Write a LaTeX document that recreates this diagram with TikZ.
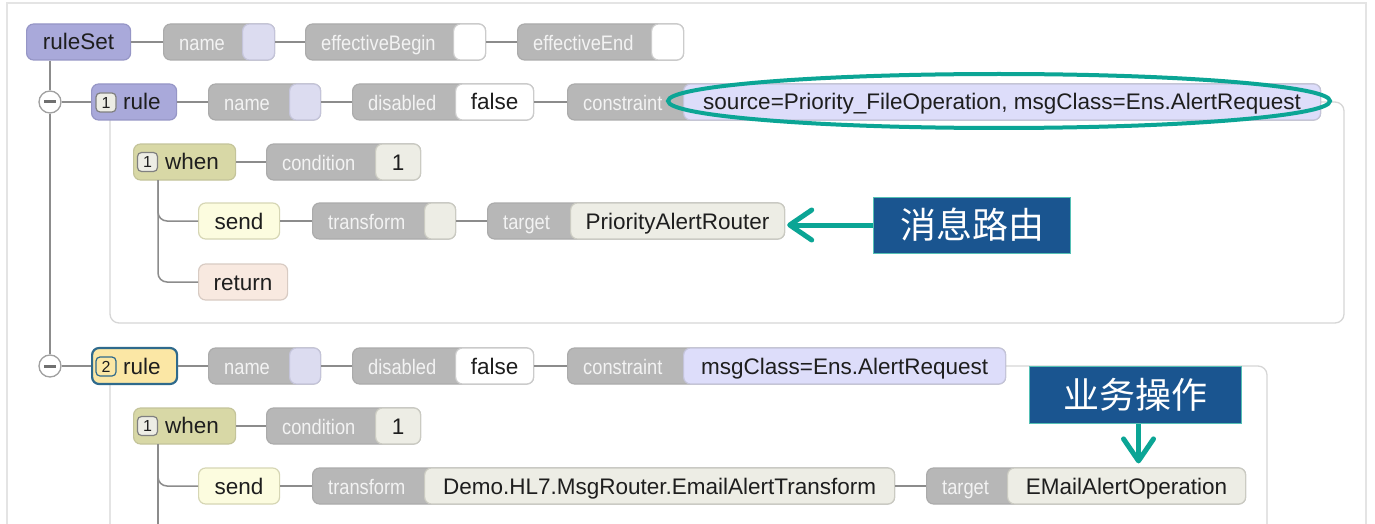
\documentclass[tikz,border=0pt]{standalone}
\usepackage{fontspec}
\setmainfont{Liberation Sans}
\newfontfamily\cjk{Noto Sans CJK SC}
\newfontfamily\labfam[FakeStretch=0.87]{Liberation Sans}
\usetikzlibrary{arrows.meta}
\definecolor{lavF}{HTML}{A9A9DA}
\definecolor{lavB}{HTML}{9696C6}
\definecolor{gpF}{HTML}{B7B7B7}
\definecolor{gpB}{HTML}{ABABAB}
\definecolor{labC}{HTML}{F3F3F3}
\definecolor{vlavF}{HTML}{DCDCF0}
\definecolor{vlavB}{HTML}{C4C4DA}
\definecolor{vconF}{HTML}{DDDDFA}
\definecolor{vwhB}{HTML}{CCCCCC}
\definecolor{vcrF}{HTML}{EDEDE5}
\definecolor{vcrB}{HTML}{CBCBC2}
\definecolor{whenF}{HTML}{D8D8A6}
\definecolor{whenB}{HTML}{C4C49A}
\definecolor{sendF}{HTML}{FCFCDF}
\definecolor{sendB}{HTML}{D6D6B4}
\definecolor{retF}{HTML}{F8E9E0}
\definecolor{retB}{HTML}{D8CBC3}
\definecolor{rtwoF}{HTML}{FBE7A5}
\definecolor{rtwoB}{HTML}{2F6A8C}
\definecolor{connC}{HTML}{8C8C8C}
\definecolor{frameC}{HTML}{D6D6D6}
\definecolor{outerC}{HTML}{E4E4E4}
\definecolor{tealC}{HTML}{0BA595}
\definecolor{blueC}{HTML}{1A5590}
\definecolor{txtC}{HTML}{1E1E1E}
\definecolor{minusC}{HTML}{707070}
\definecolor{circB}{HTML}{A0A0A0}
\newcommand\vfont{\fontsize{22.5}{22.5}\selectfont}
\newcommand\lfont{\labfam\fontsize{21}{21}\selectfont}
\newcommand\bfont{\fontsize{16}{16}\selectfont}
\newcommand\cfont{\cjk\fontsize{36}{36}\selectfont}
\newcommand\mkpill[8]{%
  \node[gp, minimum width={#4-#2}] (#1) at (#2,#3) {};
  \node[lab] at ([xshift=16]#1.west) {#6};
  \node[#7, minimum width={#4-#5}] (#1v) at (#5,#3) {#8};}
\begin{document}
\begin{tikzpicture}[x=1pt,y=-1pt,
  box/.style={rounded corners=7, minimum height=36, inner sep=0, line width=1.2, anchor=west, text=txtC, font=\vfont, text height=16, text depth=0},
  lavnode/.style={box, draw=lavB, fill=lavF},
  gp/.style={box, draw=gpB, fill=gpF},
  vlav/.style={box, draw=vlavB, fill=vlavF},
  vcon/.style={box, draw=vlavB, fill=vconF},
  vwh/.style={box, draw=vwhB, fill=white},
  vcr/.style={box, draw=vcrB, fill=vcrF},
  whennode/.style={box, draw=whenB, fill=whenF},
  sendnode/.style={box, draw=sendB, fill=sendF},
  retnode/.style={box, draw=retB, fill=retF},
  rtwonode/.style={box, draw=rtwoB, fill=rtwoF, line width=2.2},
  lab/.style={anchor=west, inner sep=0, text=labC, font=\lfont, text height=17, text depth=0},
  vtext/.style={anchor=west, inner sep=0, text=txtC, font=\vfont, text height=16, text depth=0},
  badge/.style={draw=#1, fill=vcrF, rounded corners=4, line width=1.2, minimum width=20, minimum height=19, inner sep=0, font=\bfont, text=txtC, text height=11.5, text depth=0},
  badge/.default=gray,
  conn/.style={draw=connC, line width=1.5},
  frame/.style={draw=frameC, line width=1.3, rounded corners=9},
  circ/.style={circle, draw=circB, fill=white, line width=1.3, minimum size=22, inner sep=0},
  minus/.style={draw=minusC, line width=3},
  tarrow/.style={draw=tealC, line width=5, -{Straight Barb[length=22pt,width=30pt,round]}},
  cbox/.style={draw=tealC!70, line width=1, fill=blueC, text=white, font=\cfont, minimum height=56, inner sep=0, text height=31, text depth=5}
]
\useasboundingbox (0,0) rectangle (1375,524);
\clip (0,0) rectangle (1375,524);
\fill[white] (0,0) rectangle (1375,524);
\draw[draw=outerC, line width=1.2] (7,3) rectangle (1366,560);
% frames of rule bodies
\draw[frame] (110,102) rectangle (1344,323);
\draw[frame] (110,366) rectangle (1267,600);

% Row A
\node[lavnode, minimum width=104] (rs) at (26,42) {ruleSet};
\mkpill{aname}{163}{42}{274}{242}{name}{vlav}{}
\mkpill{abeg}{305}{42}{485}{453}{effectiveBegin}{vwh}{}
\mkpill{aend}{517}{42}{683}{651}{effectiveEnd}{vwh}{}
\draw[conn] (rs.east) -- (aname.west);
\draw[conn] (aname.east) -- (abeg.west);
\draw[conn] (abeg.east) -- (aend.west);

% Row B : rule 1
\node[circ] (c1) at (50,102) {};
\draw[minus] ([xshift=-6]c1.center) -- ([xshift=6]c1.center);
\node[lavnode, minimum width=85] (r1) at (91,102) {};
\node[badge] (r1b) at (106,102.5) {1};
\node[vtext] (r1t) at (123,102) {rule};
\mkpill{bname}{208}{102}{320}{289}{name}{vlav}{}
\mkpill{bdis}{352}{102}{533}{455}{disabled}{vwh}{false}
\mkpill{bcon}{567}{102}{1320}{683}{constraint}{vcon}{source=Priority\_FileOperation, msgClass=Ens.AlertRequest}
\draw[conn] (rs.south -| c1) -- (c1.north);
\draw[conn] (c1.east) -- (r1.west);
\draw[conn] (r1.east) -- (bname.west);
\draw[conn] (bname.east) -- (bdis.west);
\draw[conn] (bdis.east) -- (bcon.west);

% Row C : when 1
\node[whennode, minimum width=102] (w1) at (133,162) {};
\node[badge] (w1b) at (147.5,162) {1};
\node[vtext] (w1t) at (165,161.5) {when};
\mkpill{ccond}{266}{162}{420}{375}{condition}{vcr}{1}
\draw[conn] (w1.east) -- (ccond.west);

% Row D : send 1
\node[sendnode, minimum width=81] (s1) at (198,221) {send};
\mkpill{dtr}{312}{221}{455}{424}{transform}{vcr}{}
\mkpill{dtg}{487}{221}{784}{570}{target}{vcr}{PriorityAlertRouter}
\draw[conn] (s1.east) -- (dtr.west);
\draw[conn] (dtr.east) -- (dtg.west);

% Row E : return
\node[retnode, minimum width=89] (ret1) at (198,282) {return};
\coordinate (w1j) at (158,180);
\draw[conn, rounded corners=9] (w1j) |- (s1.west);
\draw[conn, rounded corners=9] (w1j) |- (ret1.west);

% message routing callout
\node[cbox, minimum width=197, anchor=west] (msg) at (873,225) {消息路由};
\draw[tarrow, shorten >=2] (msg.west) -- (msg.west -| dtgv.east);

% Row F : rule 2
\node[circ] (c2) at (50,366) {};
\draw[minus] ([xshift=-6]c2.center) -- ([xshift=6]c2.center);
\draw[conn] (c1.south) -- (c2.north);
\node[rtwonode, minimum width=85] (r2) at (91,366) {};
\node[badge=rtwoB, fill=rtwoF] (r2b) at (106,366.5) {2};
\node[vtext] (r2t) at (123,366) {rule};
\mkpill{fname}{208}{366}{320}{289}{name}{vlav}{}
\mkpill{fdis}{352}{366}{533}{455}{disabled}{vwh}{false}
\mkpill{fcon}{567}{366}{1005}{683}{constraint}{vcon}{msgClass=Ens.AlertRequest}
\draw[conn] (c2.east) -- (r2.west);
\draw[conn] (r2.east) -- (fname.west);
\draw[conn] (fname.east) -- (fdis.west);
\draw[conn] (fdis.east) -- (fcon.west);

% Row G : when 2
\node[whennode, minimum width=102] (w2) at (133,426) {};
\node[badge] (w2b) at (147.5,426) {1};
\node[vtext] (w2t) at (165,425.5) {when};
\mkpill{gcond}{266}{426}{420}{375}{condition}{vcr}{1}
\draw[conn] (w2.east) -- (gcond.west);

% Row H : send 2
\node[sendnode, minimum width=81] (s2) at (198,486) {send};
\mkpill{htr}{312}{486}{894}{424}{transform}{vcr}{Demo.HL7.MsgRouter.EmailAlertTransform}
\mkpill{htg}{926}{486}{1245}{1007}{target}{vcr}{EMailAlertOperation}
\draw[conn] (s2.east) -- (htr.west);
\draw[conn] (htr.east) -- (htg.west);
\coordinate (w2j) at (158,444);
\coordinate (w2end) at (158,540);
\draw[conn, rounded corners=9] (w2j) |- (s2.west);
\draw[conn] (w2j) -- (w2end);

% business operation callout
\node[cbox, minimum width=212, minimum height=57, anchor=north west] (op) at (1029,366) {业务操作};
\coordinate (opa) at ([xshift=3]op.south);
\draw[tarrow, shorten >=4] (opa) -- (opa |- htgv.north);

% highlight ellipse
\draw[draw=tealC, line width=4] (999,101) ellipse [x radius=331, y radius=27];
\end{tikzpicture}
\end{document}
